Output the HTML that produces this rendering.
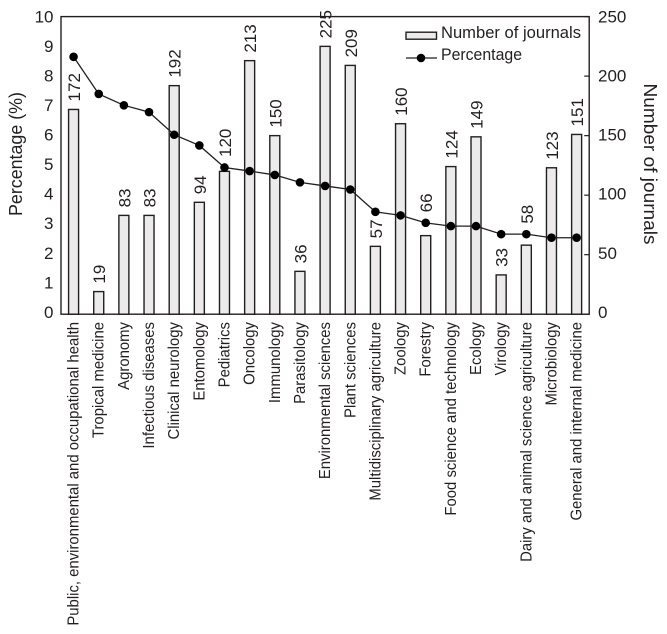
<!DOCTYPE html>
<html lang="en">
<head>
<meta charset="utf-8">
<title>Percentage and number of journals by category</title>
<style>
html,body{margin:0;padding:0;background:#fff;}
svg{display:block;}
text{font-family:"Liberation Sans",sans-serif;fill:#231f20;}
</style>
</head>
<body>
<svg id="chart" width="667" height="634" viewBox="0 0 667 634" xmlns="http://www.w3.org/2000/svg">
  <g id="bars"></g>
  <g id="line"></g>
  <rect x="61" y="16.6" width="528.2" height="297.6" fill="none" stroke="#231f20" stroke-width="1.4"/>
  <g id="right-ticks"></g>
  <g id="left-labels"></g>
  <g id="right-labels"></g>
  <g id="value-labels"></g>
  <g id="cat-labels"></g>
  <text transform="translate(22 154) rotate(-90)" text-anchor="middle" font-size="18.5" textLength="124" lengthAdjust="spacingAndGlyphs">Percentage (%)</text>
  <text transform="translate(644 164) rotate(90)" text-anchor="middle" font-size="18.5" textLength="161" lengthAdjust="spacingAndGlyphs">Number of journals</text>
  <g>
    <rect x="406" y="32.2" width="30.5" height="7" fill="#ebebeb" stroke="#231f20" stroke-width="1.4"/>
    <text x="441" y="38" font-size="17" textLength="140" lengthAdjust="spacingAndGlyphs">Number of journals</text>
    <line x1="406" y1="58" x2="437" y2="58" stroke="#231f20" stroke-width="1.3"/>
    <circle cx="421" cy="58" r="4.3" fill="#000"/>
    <text x="441" y="60" font-size="17" textLength="81" lengthAdjust="spacingAndGlyphs">Percentage</text>
  </g>
</svg>
<script>
const categories = ["Public, environmental and occupational health","Tropical medicine","Agronomy","Infectious diseases","Clinical neurology","Entomology","Pediatrics","Oncology","Immunology","Parasitology","Environmental sciences","Plant sciences","Multidisciplinary agriculture","Zoology","Forestry","Food science and technology","Ecology","Virology","Dairy and animal science agriculture","Microbiology","General and internal medicine"];
const journals = [172,19,83,83,192,94,120,213,150,36,225,209,57,160,66,124,149,33,58,123,151];
const percentages = [8.65,7.4,7.02,6.79,6.03,5.67,4.93,4.81,4.68,4.43,4.31,4.19,3.44,3.32,3.07,2.96,2.96,2.69,2.69,2.57,2.57];
const leftTicks = [0,1,2,3,4,5,6,7,8,9,10];
const rightTicks = [0,50,100,150,200,250];

const NS = 'http://www.w3.org/2000/svg';
const plot = {left:61, right:589.2, top:16.6, bottom:314.2};
const labelBottom = 311.8;
const band = (plot.right - plot.left) / categories.length;
const xScale = i => plot.left + band * (i + 0.5);
const yLeft = v => plot.bottom - v / 10 * (plot.bottom - plot.top);
const yRight = v => plot.bottom - v / 250 * (plot.bottom - plot.top);
const yTickLabel = fraction => labelBottom - fraction * (labelBottom - plot.top) + 6;
const make = (tag, parent, attrs, text) => {
  const el = document.createElementNS(NS, tag);
  for (const k in attrs) el.setAttribute(k, attrs[k]);
  if (text !== undefined) el.textContent = text;
  document.getElementById(parent).appendChild(el);
  return el;
};
/* Value labels sit above their bar, but hop above the line marker when they would overlap it. */
const valueLabelY = i => {
  const text = String(journals[i]);
  const bottom = yRight(journals[i]) - 8;
  const top = bottom - text.length * 9.45;
  const my = yLeft(percentages[i]);
  return (my + 4.3 > top && my - 5.5 < bottom) ? my - 10.5 : bottom;
};

journals.forEach((v, i) => {
  const bar = make('rect', 'bars', {x: xScale(i) - 5, y: yRight(v), width: 10, height: plot.bottom - yRight(v), fill: '#ebebeb', stroke: '#231f20', 'stroke-width': 1.4});
  
  
  const label = make('text', 'value-labels', {transform: `translate(${xScale(i) + 6.5} ${valueLabelY(i)}) rotate(-90)`, 'font-size': 17}, String(v));
  
  
});

const linePath = make('polyline', 'line', {points: percentages.map((p, i) => xScale(i) + ',' + yLeft(p)).join(' '), fill: 'none', stroke: '#231f20', 'stroke-width': 1.3});


percentages.forEach((p, i) => {
  const dot = make('circle', 'line', {cx: xScale(i), cy: yLeft(p), r: 4.3, fill: '#000'});
  
  
});

categories.forEach((c, i) => {
  const label = make('text', 'cat-labels', {transform: `translate(${xScale(i) + 5} 322) rotate(-90) scale(0.961 1)`, 'text-anchor': 'end', 'font-size': 15.5}, c);
  
  
});

leftTicks.forEach(t => {
  const label = make('text', 'left-labels', {x: 53.5, y: yTickLabel(t / 10), 'text-anchor': 'end', 'font-size': 17}, String(t));
  
  
});

rightTicks.forEach(t => {
  const label = make('text', 'right-labels', {x: 598, y: yTickLabel(t / 250), 'font-size': 17}, String(t));
  
  
  const tick = make('line', 'right-ticks', {x1: plot.right - 5, x2: plot.right, y1: yRight(t), y2: yRight(t), stroke: '#231f20', 'stroke-width': 1.2});
  
  
});
</script>
</body>
</html>
